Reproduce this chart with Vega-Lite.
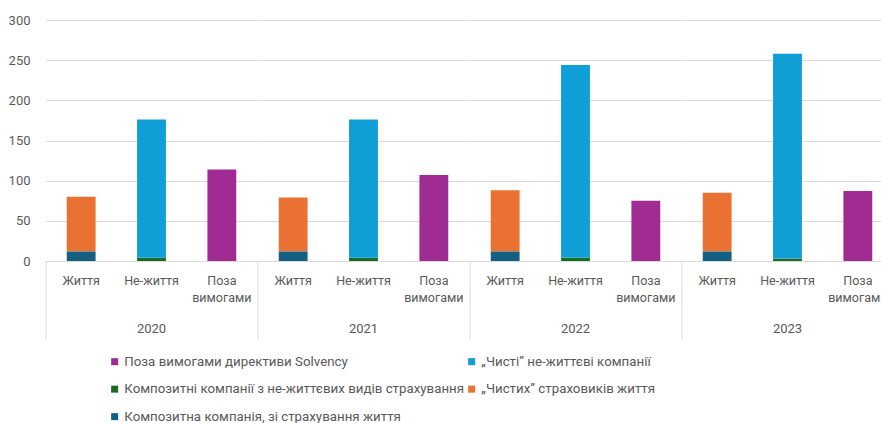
{
  "$schema": "https://vega.github.io/schema/vega-lite/v6.json",
  "background": "white",
  "padding": {"left": 8, "top": 14, "right": 0, "bottom": 0},
  "config": {
    "font": "Roboto",
    "view": {"stroke": null},
    "axis": {"labelFont": "Roboto", "labelColor": "#595959"},
    "header": {"labelFont": "Roboto"},
    "legend": {"labelFont": "Roboto"}
  },
  "data": {
    "values": [
      {"year": "2020", "cat": "Життя", "series": "Композитна компанія, зі страхування життя", "value": 12, "ord": 1},
      {"year": "2020", "cat": "Життя", "series": "„Чистих” страховиків життя", "value": 68, "ord": 2},
      {"year": "2020", "cat": "Не-життя", "series": "Композитні компанії з не-життєвих видів страхування", "value": 4, "ord": 3},
      {"year": "2020", "cat": "Не-життя", "series": "„Чисті” не-життєві компанії", "value": 172, "ord": 4},
      {"year": "2020", "cat": "Поза вимогами", "series": "Поза вимогами директиви Solvency", "value": 114, "ord": 5},
      {"year": "2021", "cat": "Життя", "series": "Композитна компанія, зі страхування життя", "value": 12, "ord": 1},
      {"year": "2021", "cat": "Життя", "series": "„Чистих” страховиків життя", "value": 67, "ord": 2},
      {"year": "2021", "cat": "Не-життя", "series": "Композитні компанії з не-життєвих видів страхування", "value": 4, "ord": 3},
      {"year": "2021", "cat": "Не-життя", "series": "„Чисті” не-життєві компанії", "value": 172, "ord": 4},
      {"year": "2021", "cat": "Поза вимогами", "series": "Поза вимогами директиви Solvency", "value": 107, "ord": 5},
      {"year": "2022", "cat": "Життя", "series": "Композитна компанія, зі страхування життя", "value": 12, "ord": 1},
      {"year": "2022", "cat": "Життя", "series": "„Чистих” страховиків життя", "value": 76, "ord": 2},
      {"year": "2022", "cat": "Не-життя", "series": "Композитні компанії з не-життєвих видів страхування", "value": 4, "ord": 3},
      {"year": "2022", "cat": "Не-життя", "series": "„Чисті” не-життєві компанії", "value": 240, "ord": 4},
      {"year": "2022", "cat": "Поза вимогами", "series": "Поза вимогами директиви Solvency", "value": 75, "ord": 5},
      {"year": "2023", "cat": "Життя", "series": "Композитна компанія, зі страхування життя", "value": 12, "ord": 1},
      {"year": "2023", "cat": "Життя", "series": "„Чистих” страховиків життя", "value": 73, "ord": 2},
      {"year": "2023", "cat": "Не-життя", "series": "Композитні компанії з не-життєвих видів страхування", "value": 3, "ord": 3},
      {"year": "2023", "cat": "Не-життя", "series": "„Чисті” не-життєві компанії", "value": 255, "ord": 4},
      {"year": "2023", "cat": "Поза вимогами", "series": "Поза вимогами директиви Solvency", "value": 87, "ord": 5}
    ]
  },
  "facet": {
    "column": {
      "field": "year",
      "type": "ordinal",
      "header": {"orient": "bottom", "title": null, "labelFontSize": 13, "labelColor": "#595959", "labelPadding": -17}
    }
  },
  "spacing": 0,
  "resolve": {"axis": {"x": "independent"}},
  "spec": {
    "width": 211,
    "height": 241,
    "layer": [
      {
        "mark": {"type": "bar", "width": {"band": 0.41}},
        "encoding": {
          "x": {
            "field": "cat",
            "type": "nominal",
            "sort": ["Життя", "Не-життя", "Поза вимогами"],
            "scale": {"paddingInner": 0, "paddingOuter": 0},
            "axis": {"title": null, "labelAngle": 0, "ticks": false, "domainColor": "#D9D9D9", "labelPadding": 13, "labelFontSize": 12.5, "labelLineHeight": 17, "labelExpr": "split(datum.label, ' ')"}
          },
          "y": {
            "field": "value",
            "type": "quantitative",
            "stack": true,
            "scale": {"domain": [0, 300]},
            "axis": {"title": null, "values": [0, 50, 100, 150, 200, 250, 300], "domain": false, "ticks": false, "gridColor": "#D9D9D9", "labelFontSize": 13, "labelPadding": 15}
          },
          "color": {
            "field": "series",
            "type": "nominal",
            "scale": {
              "domain": ["Поза вимогами директиви Solvency", "„Чисті” не-життєві компанії", "Композитні компанії з не-життєвих видів страхування", "„Чистих” страховиків життя", "Композитна компанія, зі страхування життя"],
              "range": ["#A02B93", "#0F9ED5", "#196B24", "#E97132", "#156082"]
            },
            "legend": {"orient": "none", "direction": "horizontal", "legendX": 62, "legendY": 335, "columns": 2, "title": null, "symbolType": "square", "symbolSize": 49, "labelFontSize": 13.3, "labelOffset": 3, "labelColor": "#595959", "labelLimit": 400, "rowPadding": 13.5, "columnPadding": 0}
          },
          "order": {"field": "ord", "type": "quantitative"}
        }
      },
      {
        "transform": [{"filter": "datum.ord == 1"}],
        "mark": {"type": "rule", "color": "#D9D9D9"},
        "encoding": {
          "x": {"field": "cat", "type": "nominal", "bandPosition": 0},
          "y": {"datum": 0},
          "y2": {"datum": -97}
        }
      }
    ]
  }
}
